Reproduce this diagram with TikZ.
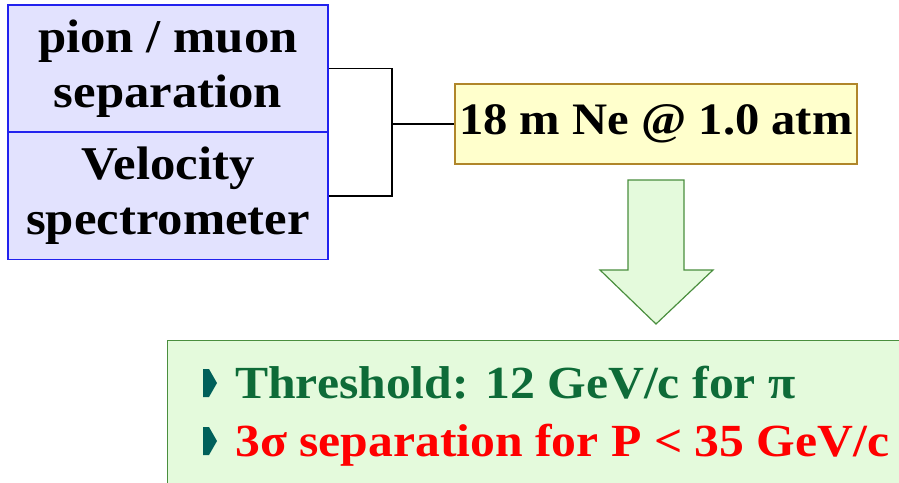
\documentclass[tikz,border=0pt]{standalone}
\usepackage{fontspec}
\setmainfont{Liberation Serif}[FakeStretch=1.08]
\usepackage{xcolor}
\usepackage{tikz}
\usetikzlibrary{positioning,calc}
\definecolor{SlideBlue}{HTML}{2222EE}
\definecolor{SlideLavender}{HTML}{E2E2FE}
\definecolor{SlideGold}{HTML}{B0862A}
\definecolor{SlideCream}{HTML}{FFFFCC}
\definecolor{SlideGreen}{HTML}{4A8E3E}
\definecolor{SlideMint}{HTML}{E4FADC}
\definecolor{SlidePine}{HTML}{0E6B38}
\definecolor{SlideRed}{HTML}{FF0000}
\definecolor{SlideTeal}{HTML}{00605A}
% bullet left of a text line, #1 = node name
\newcommand{\slidebullet}[1]{%
  \fill[SlideTeal] ($(#1.base west)+(-32,-1)$) -- ++(0,-28) -- ++(6,0)
    -- ++(8,14) -- ++(-8,14) -- cycle;%
}
\tikzset{
  purposebox/.style={draw=SlideBlue,fill=SlideLavender,line width=1.2pt,
    align=center,minimum width=320pt,minimum height=127pt,inner sep=0pt,
    font=\bfseries\fontsize{47}{55}\selectfont},
  gasbox/.style={draw=SlideGold,fill=SlideCream,line width=1.2pt,
    minimum width=402pt,minimum height=80pt,inner sep=0pt,
    font=\bfseries\fontsize{45}{54}\selectfont},
  resultline/.style={anchor=base west,inner sep=0pt,
    font=\bfseries\fontsize{46}{54}\selectfont},
  link/.style={draw=black,line width=1.2pt}
}

\begin{document}
\begin{tikzpicture}[x=1pt,y=-1pt]
  \useasboundingbox (0,0) rectangle (899,482);
  % left boxes
  \node[purposebox] (pion) at (168,68.5) {pion / muon\\separation};
  \node[purposebox] (velocity) at (168,196) {Velocity\\spectrometer};
  % radiator
  \node[gasbox] (gas) at (656,124) {18 m Ne @ 1.0 atm};
  \coordinate (join) at (392,124);
  \draw[link] (pion.east) -| (join) |- (velocity.east);
  \draw[link] (join) -- (gas.west);
  % result box
  \node[draw=SlideGreen,fill=SlideMint,line width=1.2pt,anchor=north west,
        minimum width=745pt,minimum height=150pt,inner sep=0pt] (result) at (167,340) {};
  \draw[draw=SlideGreen,fill=SlideMint,line width=1.2pt]
    (628,180) -- (684,180) -- (684,270) -- (713,270) -- (656,324)
    -- (600,270) -- (628,270) -- cycle;
  \node[resultline,text=SlidePine] (threshold) at (235,398)
    {Threshold: 12 GeV/c for π};
  \node[resultline,text=SlideRed] (sigma) at (235,456)
    {3σ separation for P < 35 GeV/c};
  \slidebullet{threshold}
  \slidebullet{sigma}
\end{tikzpicture}
\end{document}
